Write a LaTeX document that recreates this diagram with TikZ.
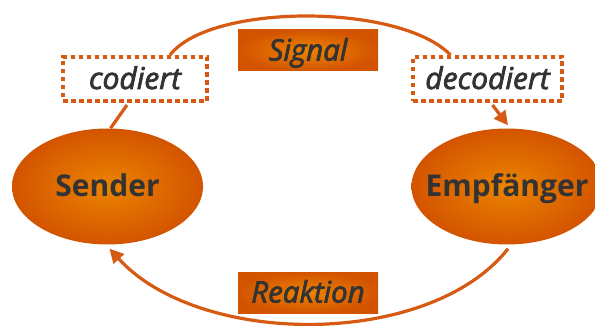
\documentclass[tikz,border=0pt]{standalone}
\usepackage{fontspec}
\setmainfont{Open Sans}
\newfontfamily\semiit{Open Sans}[FakeBold=2.5]
\usetikzlibrary{arrows.meta,calc,shapes.geometric}
\definecolor{dkor}{HTML}{D35400}
\definecolor{ltor}{HTML}{EC8400}
\definecolor{txt}{HTML}{333333}
\definecolor{lineor}{HTML}{D65A12}
\begin{document}
\begin{tikzpicture}[x=1pt,y=-1pt,
  party/.style={ellipse, inner sep=0pt, minimum width=191pt, minimum height=116pt,
    inner color=ltor, outer color=dkor},
  partylabel/.style={text=txt, inner sep=0pt, text height=20pt, text depth=0pt,
    font=\fontsize{30}{32}\selectfont\bfseries},
  msgbox/.style={rectangle, inner sep=0pt, minimum width=140pt, minimum height=41pt,
    inner color=ltor, outer color=dkor, text=txt, text height=20pt, text depth=0pt,
    font=\fontsize{29.5}{31}\selectfont\semiit\itshape},
  codebox/.style={rectangle, inner sep=0pt, minimum height=44pt, draw=lineor,
    line width=4pt, dash pattern=on 4.5pt off 3.5pt, text=txt, text height=20pt, text depth=0pt,
    font=\fontsize{30}{32}\selectfont\semiit\itshape},
  conn/.style={draw=lineor, line width=3.2pt},
  tip/.style={-{Triangle[length=14pt,width=14pt]}}
]
\useasboundingbox (0,0) rectangle (595,326);
\node[party, label={[partylabel]center:Sender}] (snd) at (107.5,186.5) {};
\node[party, label={[partylabel]center:Empfänger}] (emp) at (507,186.5) {};
\node[codebox, minimum width=144pt] (cod) at (135,79) {codiert};
\node[codebox, minimum width=149pt] (dec) at (487.5,79) {decodiert};

\draw[conn] ($(cod.north)+(35,0)$) .. controls (210,3) and (400,3) .. ($(dec.north)+(-37,0)$);
\draw[conn] ($(cod.south)+(-8,2)$) -- ($(snd.north)+(3,0)$);
\draw[conn, tip] ($(dec.south)+(5,2)$) -- ($(emp.north)+(1,-3)$);
\draw[conn, tip] ($(emp.south)+(1,4)$) .. controls (430,348) and (200,348) .. ($(snd.south)+(2,4)$);

\node[msgbox] (sig) at (308,50.5) {Signal};
\node[msgbox] (rea) at (308,292.5) {Reaktion};
\end{tikzpicture}
\end{document}
